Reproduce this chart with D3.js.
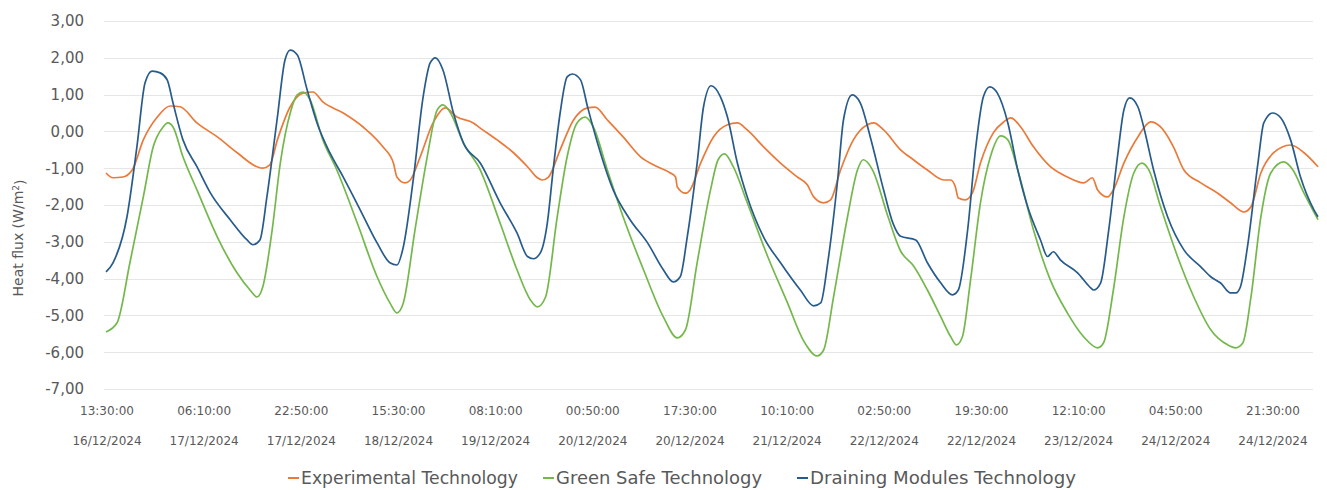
<!DOCTYPE html>
<html>
<head>
<meta charset="utf-8">
<script src="https://cdn.jsdelivr.net/npm/d3@7"></script>
<style>
  html, body { margin: 0; padding: 0; background: #ffffff; }
  svg { display: block; }
  text { font-family: "DejaVu Sans", "Liberation Sans", sans-serif; fill: #595959; }
</style>
</head>
<body>
<svg id="chart" width="1327" height="490"></svg>
<script>
// Heat flux logged from 16/12/2024 13:30 onwards.
// Each pair: [hours since start, heat flux in W/m²]
const startStamp = "16/12/2024 13:30:00";

const experimental = [
  [0,-1.13],[1.2,-1.26],[2.9,-1.24],[4.5,-1.05],[6.4,-0.23],[8.8,0.39],[11.0,0.69],[12.7,0.67],
  [15.6,0.23],[19.1,-0.15],[22.5,-0.58],[25.9,-0.96],[26.9,-1.00],[28.1,-0.91],[29.4,-0.23],
  [31.6,0.67],[33.8,1.04],[35.5,1.07],[37.2,0.80],[40.7,0.50],[44.1,0.12],[47.5,-0.42],[49.3,-0.86],
  [49.9,-1.24],[51.3,-1.40],[52.2,-1.32],[53.9,-0.69],[56.1,0.23],[58.2,0.64],[60.2,0.39],[63.0,0.23],
  [64.2,0.09],[67.1,-0.23],[69.9,-0.58],[72.3,-0.96],[74.0,-1.26],[74.8,-1.32],[75.9,-1.24],[77.9,-0.50],
  [80.2,0.31],[82.6,0.64],[83.9,0.66],[86.0,0.31],[88.7,-0.15],[91.7,-0.69],[94.6,-0.96],[96.8,-1.13],
  [97.7,-1.24],[98.0,-1.51],[99.4,-1.68],[100.2,-1.59],[102.0,-0.86],[104.2,-0.15],[106.6,0.18],
  [108.3,0.23],[110.0,0.04],[112.8,-0.42],[115.7,-0.86],[118.6,-1.24],[120.3,-1.45],[121.4,-1.78],
  [123.1,-1.94],[124.3,-1.86],[126.0,-1.05],[128.2,-0.23],[130.6,0.18],[131.7,0.23],[133.4,0.04],
  [136.3,-0.50],[138.5,-0.77],[140.9,-1.05],[143.7,-1.32],[144.9,-1.32],[145.7,-1.51],[146.2,-1.81],
  [147.4,-1.86],[148.6,-1.68],[150.0,-0.86],[152.2,-0.04],[154.0,0.26],[155.2,0.37],[156.9,0.12],
  [159.1,-0.42],[162.0,-0.96],[164.9,-1.24],[167.7,-1.40],[169.2,-1.26],[170.1,-1.59],[171.8,-1.78],
  [172.8,-1.59],[174.6,-0.86],[177.0,-0.15],[179.2,0.26],[180.9,0.12],[183.1,-0.42],[184.9,-1.05],
  [187.8,-1.40],[190.7,-1.68],[192.9,-1.94],[195.2,-2.19],[196.4,-2.05],[198.1,-1.13],[200.3,-0.58],
  [203.2,-0.37],[205.5,-0.58],[207.9,-0.96]
];

const greenSafe = [
  [0,-5.45],[1.9,-5.20],[4.1,-3.57],[6.4,-1.78],[8.1,-0.42],[9.8,0.12],[10.6,0.23],[11.5,0.12],
  [13.2,-0.69],[15.6,-1.59],[19.1,-2.87],[22.5,-3.85],[24.7,-4.31],[25.9,-4.50],[26.9,-4.22],
  [28.5,-2.68],[29.9,-0.86],[31.6,0.50],[32.8,0.99],[33.8,1.07],[35.0,0.86],[37.2,-0.23],[39.6,-1.05],
  [43.1,-2.49],[46.5,-3.95],[48.7,-4.66],[49.9,-4.93],[51.0,-4.66],[53.0,-2.68],[55.1,-0.69],
  [56.8,0.58],[57.8,0.72],[59.0,0.53],[61.3,-0.31],[64.2,-1.05],[67.6,-2.49],[70.5,-3.76],[72.8,-4.58],
  [74.0,-4.77],[75.4,-4.50],[77.4,-2.32],[79.1,-0.69],[80.8,0.23],[82.2,0.39],[83.6,0.12],[86.0,-1.05],
  [88.7,-2.32],[92.2,-3.76],[95.6,-5.04],[98.0,-5.61],[99.4,-5.39],[101.4,-3.57],[103.7,-1.59],
  [105.0,-0.77],[106.1,-0.61],[107.6,-0.96],[110.0,-1.94],[113.5,-3.40],[116.9,-4.66],[119.6,-5.67],
  [122.0,-6.10],[123.1,-5.94],[124.8,-4.50],[127.2,-2.32],[128.9,-1.05],[129.9,-0.77],[131.5,-1.05],
  [134.1,-2.30],[136.3,-3.25],[138.5,-3.65],[140.9,-4.31],[143.2,-5.04],[144.9,-5.58],[145.9,-5.80],
  [146.9,-5.58],[148.3,-4.04],[150.0,-1.94],[151.7,-0.69],[153.5,-0.12],[154.7,-0.23],[156.4,-1.05],
  [159.1,-2.68],[162.0,-4.04],[164.9,-4.93],[167.7,-5.58],[170.1,-5.88],[171.1,-5.75],[172.8,-4.31],
  [174.6,-2.32],[176.3,-1.13],[177.7,-0.86],[178.9,-1.05],[180.9,-2.05],[183.8,-3.40],[186.6,-4.50],
  [189.5,-5.39],[192.4,-5.80],[193.8,-5.88],[195.0,-5.75],[196.4,-4.50],[198.1,-2.32],[199.8,-1.13],
  [202.0,-0.83],[203.6,-1.05],[205.5,-1.68],[207.9,-2.40]
];

const draining = [
  [0,-3.82],[1.2,-3.57],[3.6,-2.32],[5.3,-0.42],[6.7,1.32],[7.9,1.64],[9.3,1.59],[10.5,1.40],
  [11.5,0.77],[13.2,-0.23],[15.6,-0.96],[17.9,-1.67],[21.3,-2.40],[24.2,-2.95],[25.2,-3.08],
  [26.4,-2.95],[27.6,-1.78],[29.4,0.39],[30.7,1.94],[31.6,2.21],[32.8,2.08],[34.5,1.13],[36.2,0.23],
  [38.4,-0.58],[40.7,-1.24],[43.6,-2.13],[46.5,-3.03],[48.7,-3.57],[49.9,-3.63],[51.0,-3.14],
  [52.7,-1.32],[54.4,0.94],[55.6,1.86],[56.5,2.00],[57.8,1.67],[59.6,0.50],[61.3,-0.31],[64.2,-0.86],
  [67.6,-1.94],[70.5,-2.76],[72.3,-3.40],[73.3,-3.46],[74.5,-3.30],[75.7,-2.49],[76.7,-1.05],
  [77.9,0.50],[79.1,1.48],[80.0,1.56],[81.4,1.40],[82.6,0.67],[84.3,-0.31],[87.0,-1.59],[89.9,-2.40],
  [92.9,-3.03],[95.6,-3.76],[97.3,-4.09],[98.5,-3.95],[99.7,-2.87],[101.4,-0.86],[102.5,0.67],
  [103.8,1.24],[105.4,0.94],[106.6,0.39],[108.3,-0.86],[110.0,-1.78],[112.8,-2.87],[115.7,-3.57],
  [119.1,-4.31],[121.4,-4.74],[122.6,-4.66],[123.8,-3.57],[125.5,-1.32],[126.5,0.31],[128.0,0.99],
  [129.4,0.77],[131.1,-0.15],[133.4,-1.60],[135.0,-2.50],[136.3,-2.85],[138.9,-2.95],[140.9,-3.57],
  [143.2,-4.12],[145.2,-4.44],[146.2,-4.31],[147.8,-2.68],[149.2,-0.42],[150.5,0.94],[151.6,1.21],
  [152.9,1.04],[154.7,0.23],[156.4,-1.05],[158.1,-2.05],[160.3,-2.95],[161.5,-3.40],[162.5,-3.27],
  [163.7,-3.49],[166.7,-3.85],[168.9,-4.25],[169.4,-4.31],[170.6,-4.12],[172.0,-2.68],[173.5,-0.69],
  [174.6,0.58],[175.6,0.91],[177.0,0.67],[178.0,0.12],[179.7,-1.05],[182.1,-2.32],[184.9,-3.22],
  [187.8,-3.68],[189.5,-3.95],[191.2,-4.12],[192.9,-4.39],[193.8,-4.39],[194.6,-4.22],[195.8,-3.14],
  [197.6,-0.86],[198.6,0.23],[200.1,0.50],[201.5,0.37],[203.2,-0.23],[204.9,-1.24],[207.2,-2.13],
  [207.9,-2.32]
];

const tickTimes = ["13:30:00","06:10:00","22:50:00","15:30:00","08:10:00","00:50:00","17:30:00",
                   "10:10:00","02:50:00","19:30:00","12:10:00","04:50:00","21:30:00"];
const tickDates = ["16/12/2024","17/12/2024","17/12/2024","18/12/2024","19/12/2024","20/12/2024",
                   "20/12/2024","21/12/2024","22/12/2024","22/12/2024","23/12/2024","24/12/2024",
                   "24/12/2024"];
const yTicks = [3, 2, 1, 0, -1, -2, -3, -4, -5, -6, -7];

const seriesNames = ["Experimental Technology", "Green Safe Technology", "Draining Modules Technology"];
const seriesColors = ["#EA7A3A", "#74B84C", "#275B8C"];
const seriesData = [experimental, greenSafe, draining];

// ---------- layout ----------
const svg = d3.select("#chart");
const plot = { left: 106, right: 1318, top: 21, bottom: 389 };

const parseStamp = d3.timeParse("%d/%m/%Y %H:%M:%S");
const start = parseStamp(startStamp);
const hoursToDate = h => new Date(start.getTime() + h * 3600e3);
const lastHour = d3.max(seriesData, s => d3.max(s, d => d[0]));

const x = d3.scaleTime()
  .domain([start, hoursToDate(lastHour)])
  .range([plot.left, plot.right]);

const y = d3.scaleLinear()
  .domain([-7, 3])
  .range([plot.bottom, plot.top]);

const locale = d3.formatLocale({ decimal: ",", thousands: ".", grouping: [3], currency: ["", ""], minus: "-" });
const fmt = locale.format(".2f");

// horizontal gridlines
svg.append("g")
  .selectAll("line")
  .data(yTicks)
  .join("line")
  .attr("x1", plot.left - 2)
  .attr("x2", plot.right - 5)
  .attr("y1", d => Math.round(y(d)) + 0.5)
  .attr("y2", d => Math.round(y(d)) + 0.5)
  .attr("stroke", "#e6e6e6")
  .attr("stroke-width", 1);

// y axis labels
svg.append("g")
  .selectAll("text")
  .data(yTicks)
  .join("text")
  .attr("x", 84)
  .attr("y", d => y(d))
  .attr("dy", "0.36em")
  .attr("text-anchor", "end")
  .style("font-size", "15px")
  .text(d => fmt(d));

// y axis title
const yTitle = svg.append("text")
  .attr("transform", "translate(23,238) rotate(-90)")
  .attr("text-anchor", "middle")
  .style("font-size", "14px");
yTitle.append("tspan").text("Heat flux (W/m");
yTitle.append("tspan").attr("dy", "-0.4em").style("font-size", "9px").text("2");
yTitle.append("tspan").attr("dy", "0.4em").text(")");

// x axis labels: time row and date row
const tickStamps = tickTimes.map((t, i) => parseStamp(tickDates[i] + " " + t));
const xLabels = svg.append("g")
  .selectAll("g")
  .data(tickStamps)
  .join("g")
  .attr("transform", d => `translate(${x(d) + 1},0)`);
xLabels.append("text")
  .attr("y", 415)
  .attr("text-anchor", "middle")
  .style("font-size", "12px")
  .text((d, i) => tickTimes[i]);
xLabels.append("text")
  .attr("y", 445)
  .attr("text-anchor", "middle")
  .style("font-size", "12px")
  .text((d, i) => tickDates[i]);

// series lines
const line = d3.line()
  .x(d => x(hoursToDate(d[0])))
  .y(d => y(d[1]))
  .curve(d3.curveMonotoneX);

svg.append("g")
  .selectAll("path")
  .data(seriesData)
  .join("path")
  .attr("d", d => line(d))
  .attr("fill", "none")
  .attr("stroke", (d, i) => seriesColors[i])
  .attr("stroke-width", 1.7)
  .attr("stroke-linejoin", "round");

// legend
const legendX = [288, 543, 797];
const legendWidth = [217, 206, 266];
const legend = svg.append("g")
  .selectAll("g")
  .data(seriesNames)
  .join("g")
  .attr("transform", (d, i) => `translate(${legendX[i]},478)`);
legend.append("line")
  .attr("x1", 0).attr("x2", 11)
  .attr("y1", 0).attr("y2", 0)
  .attr("stroke", (d, i) => seriesColors[i])
  .attr("stroke-width", 2);
legend.append("text")
  .attr("x", 13)
  .attr("dy", "0.36em")
  .attr("textLength", (d, i) => legendWidth[i])
  .attr("lengthAdjust", "spacingAndGlyphs")
  .style("font-size", "17px")
  .text(d => d);
</script>
</body>
</html>
